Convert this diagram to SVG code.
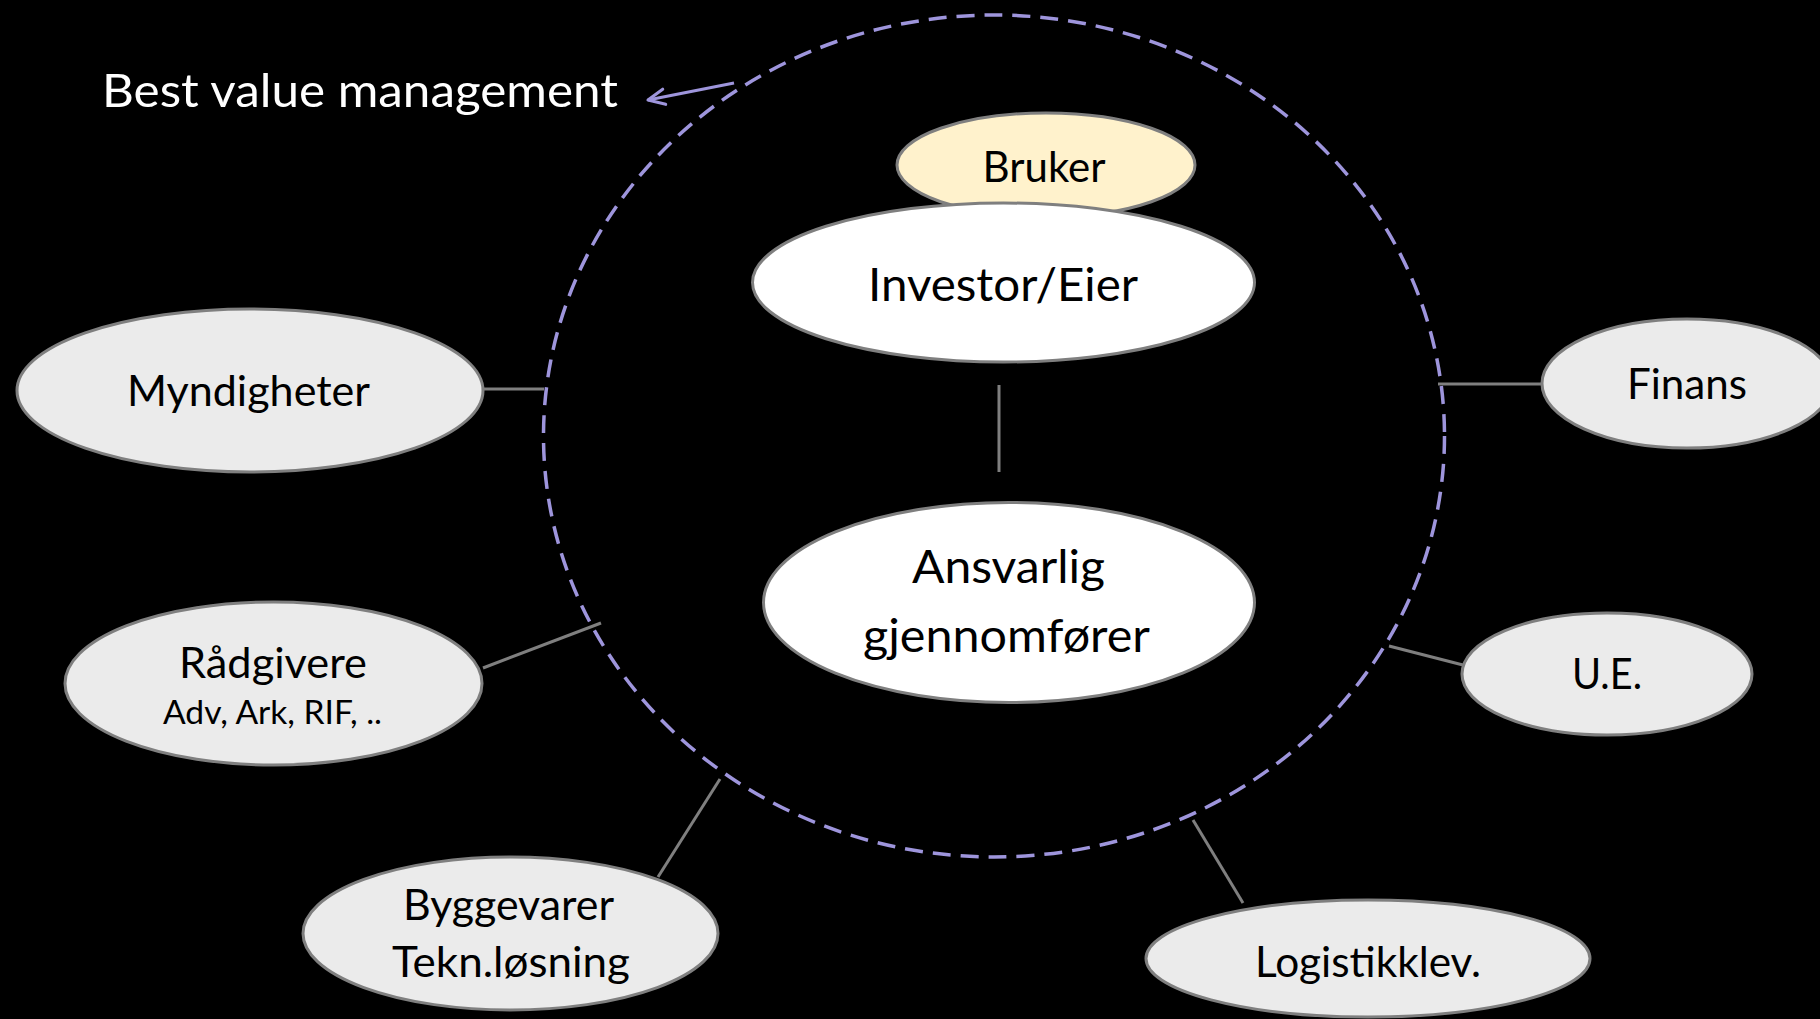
<svg xmlns="http://www.w3.org/2000/svg" width="1820" height="1019" viewBox="0 0 1820 1019">
  <defs>
    <style>
      .node { fill: #EBEBEB; stroke: #7F7F7F; stroke-width: 3; }
      .core { fill: #FFFFFF; stroke: #7F7F7F; stroke-width: 3; }
      .user { fill: #FFF2CC; stroke: #7F7F7F; stroke-width: 3; }
      .lbl { font-family: Lato, "Liberation Sans", "Noto Sans", sans-serif; fill: #000000; text-anchor: middle; font-size: 43px; }
      .big { font-size: 46px; }
      .small { font-size: 33px; }
      .conn { stroke: #7F7F7F; stroke-width: 3; fill: none; }
      .bvm { fill: none; stroke: #9E95DC; stroke-width: 3.5; stroke-dasharray: 18 10; }
      .title { font-family: Lato, "Liberation Sans", "Noto Sans", sans-serif; fill: #FFFFFF; font-size: 47px; }
    </style>
    <marker id="openArrow" viewBox="0 0 20 20" refX="18" refY="10" markerWidth="22" markerHeight="22" markerUnits="userSpaceOnUse" orient="auto">
      <path d="M3,3 L18,10 L3,17" fill="none" stroke="#9E95DC" stroke-width="2.8" stroke-linecap="round" stroke-linejoin="round"/>
    </marker>
  </defs>

  <rect x="0" y="0" width="1820" height="1019" fill="#000000"/>

  <g id="connectors">
    <line class="conn" x1="483" y1="389" x2="544" y2="389"/>
    <line class="conn" x1="999" y1="385" x2="999" y2="472"/>
    <line class="conn" x1="1438" y1="384" x2="1543" y2="384"/>
    <line class="conn" x1="483" y1="668" x2="601" y2="623"/>
    <line class="conn" x1="658" y1="877" x2="720" y2="779"/>
    <line class="conn" x1="1389" y1="646" x2="1463" y2="665"/>
    <line class="conn" x1="1193" y1="820" x2="1243" y2="903"/>
  </g>

  <g id="best-value-management">
    <ellipse class="bvm" cx="994" cy="436" rx="450.5" ry="421"/>
    <line x1="734" y1="83" x2="648" y2="100" stroke="#9E95DC" stroke-width="3" marker-end="url(#openArrow)"/>
    <text class="title" x="102" y="107" textLength="516" lengthAdjust="spacingAndGlyphs">Best value management</text>
  </g>

  <g id="node-bruker">
    <ellipse class="user" cx="1046" cy="165" rx="149" ry="52"/>
    <text class="lbl" x="1044" y="182" textLength="123" lengthAdjust="spacingAndGlyphs">Bruker</text>
  </g>

  <g id="node-investor">
    <ellipse class="core" cx="1003.5" cy="282.5" rx="251" ry="79.5"/>
    <text class="lbl big" x="1003" y="301" textLength="270" lengthAdjust="spacingAndGlyphs">Investor/Eier</text>
  </g>

  <g id="node-ansvarlig">
    <ellipse class="core" cx="1009" cy="602.5" rx="245.5" ry="100"/>
    <text class="lbl big" x="1008.5" y="583" textLength="193" lengthAdjust="spacingAndGlyphs">Ansvarlig</text>
    <text class="lbl big" x="1006.5" y="652" textLength="287" lengthAdjust="spacingAndGlyphs">gjennomfører</text>
  </g>

  <g id="node-myndigheter">
    <ellipse class="node" cx="250" cy="390.5" rx="233" ry="81.5"/>
    <text class="lbl" x="248.5" y="406" textLength="243" lengthAdjust="spacingAndGlyphs">Myndigheter</text>
  </g>

  <g id="node-finans">
    <ellipse class="node" cx="1687" cy="383.5" rx="145" ry="64.5"/>
    <text class="lbl" x="1687" y="399" textLength="120" lengthAdjust="spacingAndGlyphs">Finans</text>
  </g>

  <g id="node-radgivere">
    <ellipse class="node" cx="273.5" cy="683.5" rx="208.5" ry="81.5"/>
    <text class="lbl" x="273" y="678" textLength="188" lengthAdjust="spacingAndGlyphs">Rådgivere</text>
    <text class="lbl small" x="272.5" y="724" textLength="219" lengthAdjust="spacingAndGlyphs">Adv, Ark, RIF, ..</text>
  </g>

  <g id="node-ue">
    <ellipse class="node" cx="1607" cy="674" rx="145" ry="61"/>
    <text class="lbl" x="1607" y="689" textLength="70" lengthAdjust="spacingAndGlyphs">U.E.</text>
  </g>

  <g id="node-byggevarer">
    <ellipse class="node" cx="510.5" cy="933.5" rx="207.5" ry="76.5"/>
    <text class="lbl" x="508.5" y="920" textLength="211" lengthAdjust="spacingAndGlyphs">Byggevarer</text>
    <text class="lbl" x="511" y="977" textLength="238" lengthAdjust="spacingAndGlyphs">Tekn.løsning</text>
  </g>

  <g id="node-logistikk">
    <ellipse class="node" cx="1368" cy="958.5" rx="222" ry="58.5"/>
    <text class="lbl" x="1368" y="977" textLength="226" lengthAdjust="spacingAndGlyphs">Logistikklev.</text>
  </g>
</svg>
